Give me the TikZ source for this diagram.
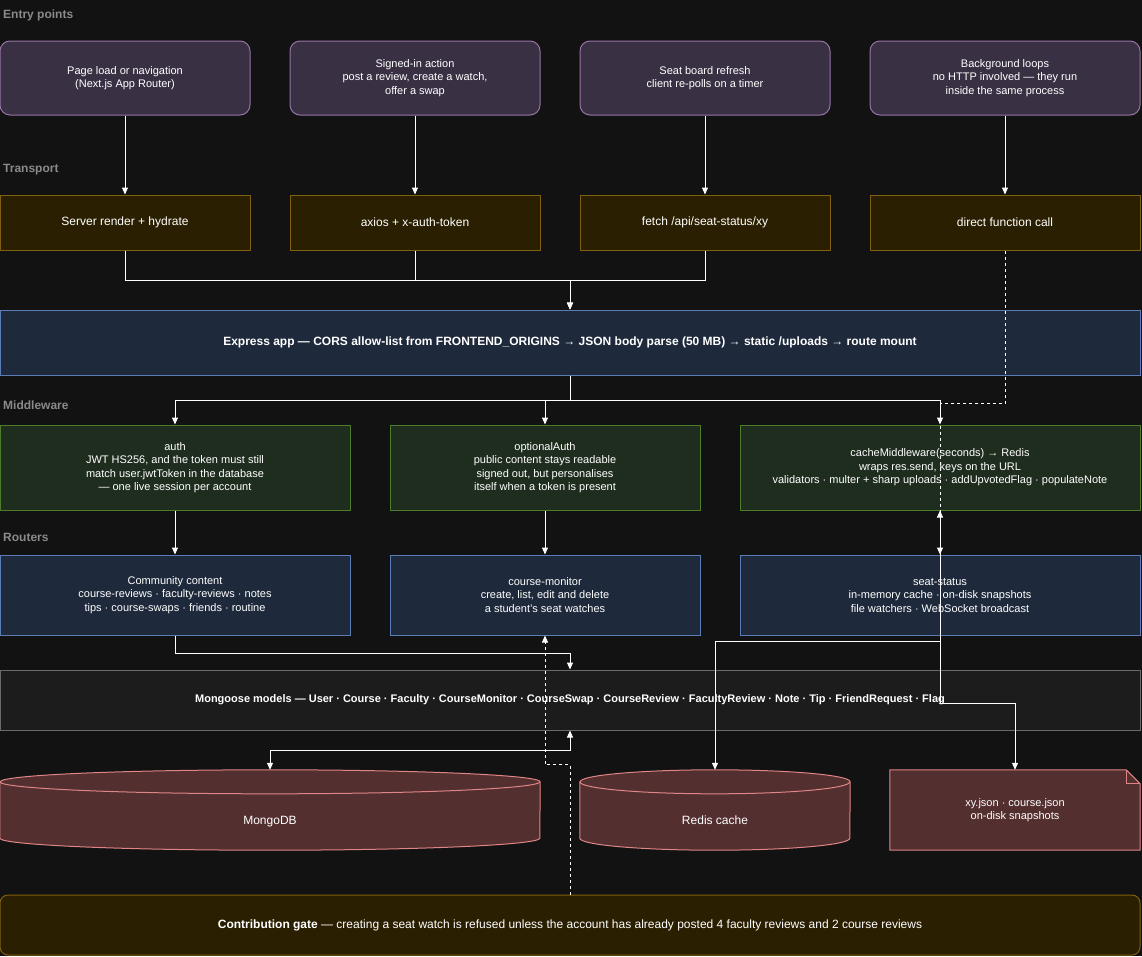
\documentclass[tikz,border=0pt]{standalone}
\usepackage{fontspec}
\setmainfont{Liberation Sans}
\usetikzlibrary{arrows.meta}

\definecolor{bgc}{HTML}{121212}
\definecolor{lblc}{HTML}{8A8A8A}
\definecolor{entryfill}{HTML}{3A3044}
\definecolor{entryline}{HTML}{9673A6}
\definecolor{transfill}{HTML}{2A1F00}
\definecolor{transline}{HTML}{7F6010}
\definecolor{appfill}{HTML}{1E293B}
\definecolor{appline}{HTML}{5B7DB5}
\definecolor{mwfill}{HTML}{1F2D1E}
\definecolor{mwline}{HTML}{4B7D2A}
\definecolor{modelfill}{HTML}{1C1C1C}
\definecolor{modelline}{HTML}{6A6A6A}
\definecolor{storefill}{HTML}{532F2F}
\definecolor{storeline}{HTML}{E08585}

% drum for the two databases: #1 node, #2 half width
\newcommand\dbdrum[2]{%
	\filldraw[store] ([yshift=-12pt]#1.north west) -- ([yshift=12pt]#1.south west)
		arc[start angle=180,end angle=360,x radius=#2pt,y radius=12pt]
		-- ([yshift=-12pt]#1.north east)
		arc[start angle=0,end angle=180,x radius=#2pt,y radius=12pt] -- cycle;
	\draw[store,fill=none] ([yshift=-12pt]#1.north west)
		arc[start angle=180,end angle=360,x radius=#2pt,y radius=12pt];
}

\begin{document}
\begin{tikzpicture}[x=1pt,y=-1pt,>={Triangle[length=7pt,width=6pt]},
	box/.style={draw,line width=1pt,text=white,align=center,inner sep=0pt,
		font=\fontsize{11}{13.5}\selectfont},
	entrybox/.style={box,rounded corners=10pt,fill=entryfill,draw=entryline,
		minimum width=250pt,minimum height=74pt},
	transbox/.style={box,fill=transfill,draw=transline,minimum width=250pt,
		minimum height=55pt,font=\fontsize{12}{14}\selectfont},
	appbox/.style={box,fill=appfill,draw=appline,minimum height=65pt,
		font=\bfseries\fontsize{12}{14}\selectfont},
	mwbox/.style={box,fill=mwfill,draw=mwline,minimum height=85pt},
	routerbox/.style={box,fill=appfill,draw=appline,minimum height=80pt},
	modelbox/.style={box,fill=modelfill,draw=modelline,minimum width=1140pt,
		minimum height=60pt,font=\bfseries\fontsize{11}{13.5}\selectfont},
	store/.style={draw=storeline,fill=storefill,line width=1pt},
	storenode/.style={text=white,align=center,inner sep=0pt,minimum height=80pt,
		font=\fontsize{12}{14}\selectfont},
	drum/.style={storenode,text height=28pt,text depth=0pt},
	gatebox/.style={box,rounded corners=8pt,fill=transfill,draw=transline,
		minimum width=1140pt,minimum height=60pt,font=\fontsize{12}{14}\selectfont},
	lbl/.style={anchor=west,inner sep=0pt,text=lblc,font=\bfseries\fontsize{12}{14}\selectfont},
	flow/.style={draw=white,line width=1pt,->},
	dflow/.style={flow,dash pattern=on 3pt off 3pt}]

\fill[bgc] (0,0) rectangle (1142,956);
\useasboundingbox (0,0) rectangle (1142,956);

% row labels
\node[lbl] (lentry) at (3,15) {Entry points};
\node[lbl] (ltrans) at (3,170) {Transport};
\node[lbl] (lmw) at (3,405) {Middleware};
\node[lbl] (lrouters) at (3,537) {Routers};

\begin{scope}[every node/.style={entrybox}]
\node (load) at (125,78) {Page load or navigation\\(Next.js App Router)};
\node (action) at (415,78) {Signed-in action\\post a review, create a watch,\\offer a swap};
\node (refresh) at (705,78) {Seat board refresh\\client re-polls on a timer};
\node[minimum width=270pt] (loops) at (1005,78) {Background loops\\no HTTP involved — they run\\inside the same process};
\end{scope}

\begin{scope}[every node/.style={transbox}]
\node (ssr) at (125,222.5) {Server render + hydrate};
\node (axios) at (415,222.5) {axios + x-auth-token};
\node (fetch) at (705,222.5) {fetch /api/seat-status/xy};
\node[minimum width=270pt] (direct) at (1005,222.5) {direct function call};
\end{scope}

\node[appbox,minimum width=1140pt] (app) at (570,342.5) {Express app — CORS allow-list from FRONTEND\_ORIGINS → JSON body parse (50 MB) → static /uploads → route mount};

\begin{scope}[every node/.style={mwbox}]
\node[minimum width=350pt] (auth) at (175,467.5) {auth\\JWT HS256, and the token must still\\match user.jwtToken in the database\\— one live session per account};
\node[minimum width=310pt] (optauth) at (545,467.5) {optionalAuth\\public content stays readable\\signed out, but personalises\\itself when a token is present};
\node[minimum width=400pt] (cache) at (940,467.5) {cacheMiddleware(seconds) → Redis\\wraps res.send, keys on the URL\\validators · multer + sharp uploads · addUpvotedFlag · populateNote};
\end{scope}

\begin{scope}[every node/.style={routerbox}]
\node[minimum width=350pt] (community) at (175,595) {Community content\\course-reviews · faculty-reviews · notes\\tips · course-swaps · friends · routine};
\node[minimum width=310pt] (monitor) at (545,595) {course-monitor\\create, list, edit and delete\\a student's seat watches};
\node[minimum width=400pt] (seatstatus) at (940,595) {seat-status\\in-memory cache · on-disk snapshots\\file watchers · WebSocket broadcast};
\end{scope}

\node[modelbox] (models) at (570,700) {Mongoose models — User · Course · Faculty · CourseMonitor · CourseSwap · CourseReview · FacultyReview · Note · Tip · FriendRequest · Flag};

% storage
\node[drum,minimum width=540pt] (mongo) at (270,810) {};
\dbdrum{mongo}{270}
\node[drum,minimum width=540pt] at (mongo) {MongoDB};
\node[drum,minimum width=270pt] (redis) at (715,810) {};
\dbdrum{redis}{135}
\node[drum,minimum width=270pt] at (redis) {Redis cache};
\node[storenode,minimum width=250pt,font=\fontsize{11}{13.5}\selectfont] (snap) at (1015,810) {};
\filldraw[store] (snap.north west) -- ([xshift=-14pt]snap.north east) -- ([yshift=-14pt]snap.north east)
	-- (snap.south east) -- (snap.south west) -- cycle;
\draw[store,fill=none] ([xshift=-14pt]snap.north east) -- ([xshift=-14pt,yshift=-14pt]snap.north east) -- ([yshift=-14pt]snap.north east);
\node[storenode,minimum width=250pt,font=\fontsize{11}{13.5}\selectfont] at (snap) {xy.json · course.json\\on-disk snapshots};

\node[gatebox] (gate) at (570,925) {\textbf{Contribution gate} — creating a seat watch is refused unless the account has already posted 4 faculty reviews and 2 course reviews};

% connectors
\begin{scope}[every edge/.style={flow}]
\path (load) edge (ssr);
\path (action) edge (axios);
\path (refresh) edge (fetch);
\path (loops) edge (direct);
\path (auth) edge (community);
\path (optauth) edge (monitor);
\end{scope}
\draw[flow] (ssr.south) -- ++(0,30) -| (app.north);
\draw[flow] (axios.south) -- ++(0,30) -| (app.north);
\draw[flow] (fetch.south) -- ++(0,30) -| (app.north);
\draw[flow] (app.south) -- ++(0,25) -| (auth.north);
\draw[flow] (app.south) -- ++(0,25) -| (optauth.north);
\draw[flow] (app.south) -- ++(0,25) -| (cache.north);
\draw[dflow] (direct.south) -- ++(0,153) -| (seatstatus.north);
\draw[flow] (community.south) -- ++(0,18) -| (models.north);
\draw[flow,<->] (models.south) -- ++(0,20) -| (mongo.north);
\draw[flow,<->] (cache.south) -- ++(0,131) -| (redis.north);
\draw[flow] (seatstatus.south) -- ++(0,68) -| (snap.north);
\draw[dflow] (gate.north) -- ++(0,-130) -| (monitor.south);
\end{tikzpicture}
\end{document}
